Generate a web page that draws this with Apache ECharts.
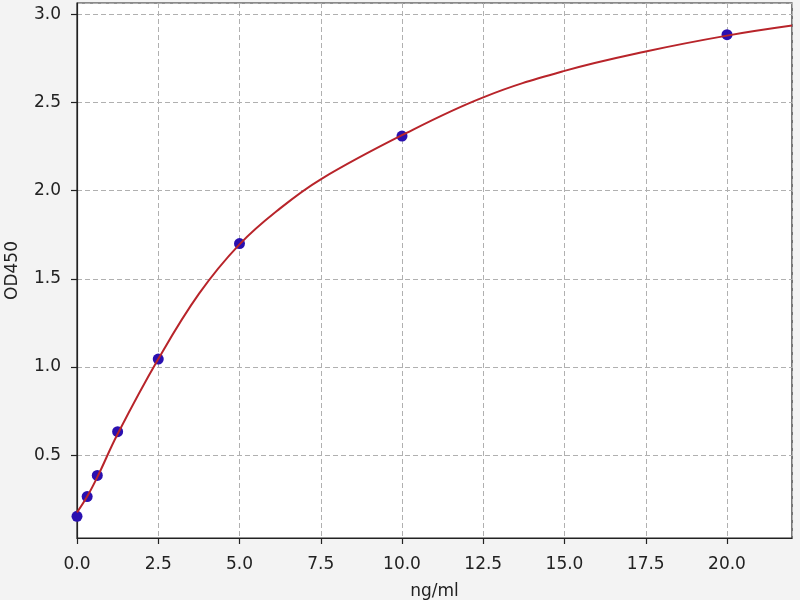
<!DOCTYPE html>
<html>
<head>
<meta charset="utf-8">
<title>OD450 standard curve</title>
<style>
  * { margin: 0; padding: 0; }
  body { background: #f3f3f3; }
  #main { width: 800px; height: 600px; }
</style>
</head>
<body>
<div id="main"></div>
<script src="https://cdn.jsdelivr.net/npm/echarts@6/dist/echarts.min.js"></script>
<script>
// standards (ng/ml) and measured OD450
var concs = [0, 0.3125, 0.625, 1.25, 2.5, 5, 10, 20];
var odValues = [0.153, 0.265, 0.385, 0.633, 1.045, 1.70, 2.31, 2.885];

// fitted curve
var curveX = [0, 0.3125, 0.625, 1.25, 2.5, 3.75, 5, 6.25, 7.5, 10, 12.5, 15, 17.5, 20, 22];
var curveY = [0.175, 0.265, 0.375, 0.62, 1.045, 1.415, 1.696, 1.90, 2.065, 2.315, 2.53, 2.68, 2.79, 2.88, 2.937];

var myChart = echarts.init(document.getElementById('main'));

var fontFam = 'DejaVu Sans';
var option = {
  backgroundColor: '#f3f3f3',
  animation: false,
  grid: {
    left: 77, right: 8, top: 3, bottom: 62,
    outerBoundsMode: 'none',
    containLabel: false,
    show: true,
    backgroundColor: '#ffffff',
    borderColor: '#222',
    borderWidth: 1.2
  },
  xAxis: {
    type: 'value',
    min: 0,
    max: 22,
    interval: 2.5,
    name: 'ng/ml',
    nameLocation: 'middle',
    nameGap: 45,
    nameTextStyle: { fontFamily: fontFam, fontSize: 17, color: '#222' },
    axisLine: { show: true, onZero: false, lineStyle: { color: '#222', width: 1.2 } },
    axisTick: { show: true, length: 6, lineStyle: { color: '#222', width: 1.2 } },
    axisLabel: {
      fontFamily: fontFam, fontSize: 17, color: '#222', margin: 18,
      showMaxLabel: false,
      formatter: function (v) { return v.toFixed(1); }
    },
    splitLine: { show: true, lineStyle: { color: '#b0b0b0', type: [5, 3], width: 1 } }
  },
  yAxis: {
    type: 'value',
    min: 0.03,
    max: 3.065,
    splitNumber: 6,
    name: 'OD450',
    nameLocation: 'middle',
    nameGap: 56,
    nameTextStyle: { fontFamily: fontFam, fontSize: 17, color: '#222' },
    axisLine: { show: true, lineStyle: { color: '#222', width: 1.2 } },
    axisTick: { show: true, length: 6, lineStyle: { color: '#222', width: 1.2 } },
    axisLabel: {
      fontFamily: fontFam, fontSize: 17, color: '#222', margin: 16,
      showMinLabel: false, showMaxLabel: false,
      formatter: function (v) { return v.toFixed(1); }
    },
    splitLine: { show: true, lineStyle: { color: '#b0b0b0', type: [5, 3], width: 1 } }
  },
  series: [
    {
      type: 'scatter',
      data: concs.map(function (c, i) { return [c, odValues[i]]; }),
      symbolSize: 11,
      itemStyle: { color: '#2a10b0', opacity: 1 },
      z: 2
    },
    {
      type: 'line',
      data: curveX.map(function (c, i) { return [c, curveY[i]]; }),
      smooth: 0.4,
      showSymbol: false,
      lineStyle: { color: '#b8242a', width: 2 },
      z: 3
    }
  ]
};
myChart.setOption(option);
</script>
</body>
</html>
